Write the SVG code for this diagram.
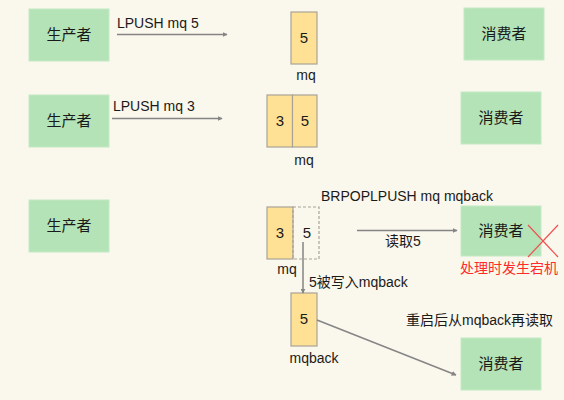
<svg xmlns="http://www.w3.org/2000/svg" width="564" height="400" viewBox="0 0 564 400">
<defs>
<style>
.node{fill:#b3e3b6;stroke:#c4eac6;stroke-width:1}
.box{fill:#fee194;stroke:#a9a397;stroke-width:1.2}
.dash{fill:none;stroke:#a9a397;stroke-width:1.2;stroke-dasharray:3 2}
.t{font-family:"Liberation Sans","Noto Sans CJK SC",sans-serif;fill:#1a1a1a}
.cn{font-family:"Noto Sans CJK SC","Liberation Sans",sans-serif;fill:#1a1a1a;font-size:15px;text-anchor:middle}
.lbl{font-size:14px}
.num{font-size:15px;text-anchor:middle}
.conn{stroke:#858585;stroke-width:1.5;fill:none;marker-end:url(#ah)}
</style>
<marker id="ah" viewBox="0 0 8 8" refX="7" refY="4" markerWidth="5" markerHeight="5" orient="auto" markerUnits="userSpaceOnUse">
<path d="M0,0 L8,4 L0,8 z" fill="#858585"/>
</marker>
</defs>
<rect width="564" height="400" fill="#faf7ec"/>

<g id="producer1"><rect class="node" x="29" y="9" width="80" height="52"/><text class="cn" x="69" y="40">生产者</text></g>
<g id="producer2"><rect class="node" x="29" y="95" width="80" height="52"/><text class="cn" x="69" y="126">生产者</text></g>
<g id="producer3"><rect class="node" x="29" y="200" width="80" height="52"/><text class="cn" x="69" y="231">生产者</text></g>

<g id="consumer1"><rect class="node" x="464" y="8" width="80" height="52"/><text class="cn" x="504" y="39">消费者</text></g>
<g id="consumer2"><rect class="node" x="461" y="92" width="80" height="52"/><text class="cn" x="501" y="123">消费者</text></g>
<g id="consumer3"><rect class="node" x="461" y="206" width="80" height="50"/><text class="cn" x="501" y="236">消费者</text></g>
<g id="consumer4"><rect class="node" x="461" y="338" width="80" height="52"/><text class="cn" x="501" y="369">消费者</text></g>

<g id="mq1">
<rect class="box" x="291" y="12" width="26" height="52"/>
<text class="t num" x="304" y="43">5</text>
<text class="t lbl" x="306" y="80" text-anchor="middle">mq</text>
</g>
<g id="mq2">
<rect class="box" x="267" y="95" width="25.5" height="52"/>
<rect class="box" x="292.5" y="95" width="24.5" height="52"/>
<text class="t num" x="280" y="126">3</text>
<text class="t num" x="305" y="126">5</text>
<text class="t lbl" x="304" y="165" text-anchor="middle">mq</text>
</g>
<g id="mq3">
<rect class="box" x="267" y="207" width="26" height="52"/>
<rect class="dash" x="293" y="207" width="26" height="52"/>
<text class="t num" x="280" y="238">3</text>
<text class="t num" x="307" y="238">5</text>
<text class="t lbl" x="287" y="274" text-anchor="middle">mq</text>
</g>
<g id="mqback">
<rect class="box" x="291" y="293" width="26" height="53"/>
<text class="t num" x="304" y="324">5</text>
<text class="t lbl" x="314" y="363" text-anchor="middle">mqback</text>
</g>

<g id="connectors">
<line class="conn" x1="117" y1="34.5" x2="227" y2="34.5"/>
<line class="conn" x1="112" y1="118.5" x2="222" y2="118.5"/>
<line class="conn" x1="357" y1="230.5" x2="457" y2="230.5"/>
<line class="conn" x1="303" y1="242" x2="303" y2="293"/>
<line class="conn" x1="317" y1="320" x2="456" y2="375"/>
</g>

<g id="labels">
<text class="t lbl" x="117" y="28">LPUSH mq 5</text>
<text class="t lbl" x="113" y="111">LPUSH mq 3</text>
<text class="t lbl" x="321" y="201">BRPOPLPUSH mq mqback</text>
<text class="t lbl" x="385" y="246">读取5</text>
<text class="t lbl" x="309" y="287">5被写入mqback</text>
<text class="t lbl" x="406" y="325">重启后从mqback再读取</text>
<text class="t lbl" x="460" y="273" fill="#ff2222" style="fill:#ff2a2a">处理时发生宕机</text>
</g>

<g id="crash" stroke="#f05050" stroke-width="1.2">
<line x1="528" y1="225" x2="558" y2="257"/>
<line x1="558" y1="225" x2="528" y2="257"/>
</g>
</svg>
